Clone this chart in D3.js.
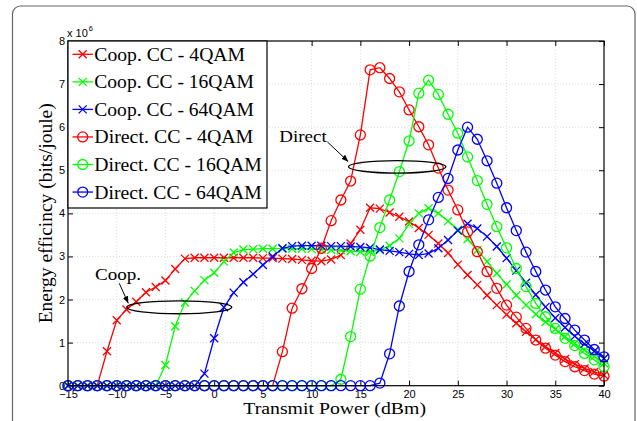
<!DOCTYPE html>
<html><head><meta charset="utf-8">
<script src="https://cdn.jsdelivr.net/npm/d3@7"></script>
<style>
body{margin:0;background:#fff}svg{display:block}
.serif{font-family:"Liberation Serif","DejaVu Serif","Times New Roman",Times,serif;}
.sans{font-family:"Liberation Sans",Arial,Helvetica,sans-serif;}
</style>
</head><body>
<svg id="c" width="637" height="421"></svg>
<script>
// ---- data ----
const power = [-15,-14,-13,-12,-11,-10,-9,-8,-7,-6,-5,-4,-3,-2,-1,0,1,2,3,4,5,6,7,8,9,10,
  11,12,13,14,15,16,17,18,19,20,21,22,23,24,25,26,27,28,29,30,31,32,33,34,35,36,37,38,39,40];

const coop4 = [0,0,0,0,0.8,1.52,1.77,1.95,2.17,2.29,2.44,2.71,2.95,2.97,2.97,2.97,2.97,2.97,2.97,2.97,
  2.96,2.96,2.95,2.94,2.92,2.90,2.89,2.93,3.03,3.30,3.62,4.13,4.11,4.02,3.92,3.81,3.66,3.50,3.30,3.08,
  2.81,2.57,2.34,2.10,1.87,1.65,1.45,1.25,1.07,0.91,0.76,0.62,0.50,0.40,0.32,0.25];

const coop16 = [0,0,0,0,0,0,0,0,0,0,0.48,1.38,1.93,2.20,2.45,2.62,2.88,3.09,3.16,3.17,
  3.18,3.18,3.18,3.18,3.18,3.17,3.16,3.15,3.14,3.12,3.11,3.11,3.15,3.25,3.42,3.75,4.00,4.12,4.00,3.82,
  3.62,3.40,3.15,2.88,2.61,2.35,2.10,1.87,1.66,1.48,1.31,1.14,0.98,0.83,0.68,0.52];

const coop64 = [0,0,0,0,0,0,0,0,0,0,0,0,0,0,0.28,1.10,1.82,2.16,2.40,2.59,
  2.80,3.00,3.19,3.24,3.25,3.25,3.25,3.24,3.24,3.23,3.22,3.20,3.16,3.13,3.10,3.06,3.03,3.07,3.19,3.38,
  3.60,3.76,3.65,3.46,3.23,2.96,2.67,2.39,2.11,1.83,1.57,1.35,1.15,0.97,0.80,0.63];

const direct4 = [0,0,0,0,0,0,0,0,0,0,0,0,0,0,0,0,0,0,0,0,
  0,0,0.79,1.80,2.25,2.72,3.19,3.83,4.31,4.75,5.82,7.33,7.38,7.13,6.82,6.40,6.01,5.59,5.05,4.54,
  4.08,3.57,3.11,2.65,2.26,1.87,1.59,1.33,1.06,0.87,0.71,0.56,0.44,0.35,0.27,0.22];

const direct16 = [0,0,0,0,0,0,0,0,0,0,0,0,0,0,0,0,0,0,0,0,
  0,0,0,0,0,0,0,0,0.15,1.14,2.24,3.01,3.67,4.31,4.97,5.68,6.79,7.09,6.76,6.30,
  5.86,5.31,4.76,4.21,3.69,3.20,2.72,2.30,1.91,1.60,1.33,1.10,0.93,0.75,0.60,0.44];

const direct64 = [0,0,0,0,0,0,0,0,0,0,0,0,0,0,0,0,0,0,0,0,
  0,0,0,0,0,0,0,0,0,0,0,0,0.06,0.74,1.85,2.65,3.27,3.85,4.37,4.81,
  5.47,6.00,5.72,5.22,4.70,4.13,3.60,3.10,2.65,2.22,1.83,1.56,1.29,1.06,0.84,0.67];

const seriesNames = ["Coop. CC - 4QAM","Coop. CC - 16QAM","Coop. CC - 64QAM",
  "Direct. CC - 4QAM","Direct. CC - 16QAM","Direct. CC - 64QAM"];
const seriesValues = [coop4, coop16, coop64, direct4, direct16, direct64];
const seriesColors = ["#ff0000","#00ff00","#0000ff","#ff0000","#00ff00","#0000ff"];
const seriesMarkers = ["x","x","x","o","o","o"];

const xTicks = [-15,-10,-5,0,5,10,15,20,25,30,35,40];
const yTicks = [0,1,2,3,4,5,6,7,8];

// annotations (data units)
const coopLabel = {text:"Coop.", x:-12.23, y:2.45, ax0:-9.74, ay0:2.376, ax1:-8.81, ay1:1.912, ex:-3.59, ey:1.82, erx:5.39, ery:0.15};
const directLabel = {text:"Direct", x:6.68, y:5.66, ax0:11.61, ay0:5.66, ax1:13.76, ay1:5.20, ex:18.78, ey:5.08, erx:5.0, ery:0.145};

// ---- drawing ----
const svg = d3.select("#c");
const L = 68, R = 604, T = 41, B = 385.7;
const x = d3.scaleLinear().domain([-15,40]).range([L,R]);
const y = d3.scaleLinear().domain([0,8]).range([B,T]);

// outer rounded frame
svg.append("rect").attr("x",12.5).attr("y",6).attr("width",622.5).attr("height",440)
  .attr("rx",8).attr("fill","none").attr("stroke","#666").attr("stroke-width",1.2);

// grid
const grid = svg.append("g").attr("stroke","#d4d4d4").attr("stroke-width",0.8).attr("stroke-dasharray","1,2");
grid.selectAll("line.v").data(xTicks.slice(1,-1)).enter().append("line")
  .attr("x1",d=>x(d)).attr("x2",d=>x(d)).attr("y1",T).attr("y2",B);
grid.selectAll("line.h").data(yTicks.slice(1,-1)).enter().append("line")
  .attr("x1",L).attr("x2",R).attr("y1",d=>y(d)).attr("y2",d=>y(d));

// axes
function styleAxis(g){
  g.select(".domain").remove();
  g.attr("font-family",null);
  g.selectAll(".tick line").attr("stroke","#000").attr("stroke-width",1);
  g.selectAll(".tick text").attr("class","sans").attr("font-size",11).attr("fill","#000");
}
svg.append("g").attr("transform",`translate(0,${B})`)
  .call(d3.axisBottom(x).tickValues(xTicks).tickSize(-5).tickPadding(5)).call(styleAxis);
svg.append("g").attr("transform",`translate(0,${T})`)
  .call(d3.axisTop(x).tickValues(xTicks).tickSize(-5).tickFormat("")).call(styleAxis);
svg.append("g").attr("transform",`translate(${L},0)`)
  .call(d3.axisLeft(y).tickValues(yTicks).tickSize(-5).tickPadding(3)).call(styleAxis);
svg.append("g").attr("transform",`translate(${R},0)`)
  .call(d3.axisRight(y).tickValues(yTicks).tickSize(-5).tickFormat("")).call(styleAxis);

// exponent label
const ex = svg.append("text").attr("class","sans").attr("x",L-1).attr("y",T-4.5)
  .attr("font-size",11).attr("fill","#000").text("x 10");
ex.append("tspan").attr("font-size",7.5).attr("dy",-6).attr("dx",1).text("6");

// series
const line = d3.line().x((d,i)=>x(power[i])).y(d=>y(d));
const xPath = "M-4,-4L4,4M-4,4L4,-4";
seriesValues.forEach((vals,k)=>{
  const g = svg.append("g");
  g.append("path").attr("d",line(vals)).attr("fill","none")
    .attr("stroke",seriesColors[k]).attr("stroke-width",1.3);
  const pts = g.selectAll("g.m").data(vals).enter().append("g")
    .attr("transform",(d,i)=>`translate(${x(power[i])},${y(d)})`);
  if(seriesMarkers[k]==="x"){
    pts.append("path").attr("d",xPath).attr("stroke",seriesColors[k]).attr("stroke-width",1.3).attr("fill","none");
  } else {
    pts.append("circle").attr("r",5).attr("stroke",seriesColors[k]).attr("stroke-width",1.3).attr("fill","none");
  }
});

// plot box
svg.append("rect").attr("x",L).attr("y",T).attr("width",R-L).attr("height",B-T)
  .attr("fill","none").attr("stroke","#000").attr("stroke-width",1.2);

// annotations
svg.append("defs").append("marker").attr("id","ah").attr("viewBox","0 0 10 10")
  .attr("refX",10).attr("refY",5).attr("markerWidth",7).attr("markerHeight",7)
  .attr("orient","auto").attr("markerUnits","userSpaceOnUse")
  .append("path").attr("d","M0,1L10,5L0,9Z").attr("fill","#000");
[[coopLabel,46],[directLabel,47.4]].forEach(([a,w])=>{
  svg.append("text").attr("class","serif").attr("x",x(a.x)).attr("y",y(a.y))
    .attr("font-size",16).attr("fill","#000").attr("textLength",w)
    .attr("lengthAdjust","spacingAndGlyphs").text(a.text);
  svg.append("line").attr("x1",x(a.ax0)).attr("y1",y(a.ay0)).attr("x2",x(a.ax1)).attr("y2",y(a.ay1))
    .attr("stroke","#000").attr("stroke-width",1).attr("marker-end","url(#ah)");
  svg.append("ellipse").attr("cx",x(a.ex)).attr("cy",y(a.ey))
    .attr("rx",x(a.ex+a.erx)-x(a.ex)).attr("ry",y(a.ey)-y(a.ey+a.ery))
    .attr("fill","none").attr("stroke","#000").attr("stroke-width",1.3);
});

// legend
const lg = svg.append("g");
lg.append("rect").attr("x",L).attr("y",T).attr("width",199).attr("height",167)
  .attr("fill","#fff").attr("stroke","#000").attr("stroke-width",1.2);
const legendWidths = [150.7,159.7,159.7,159,167.4,167.4];
seriesNames.forEach((name,k)=>{
  const cy = 54.3 + k*27.55;
  lg.append("line").attr("x1",72.5).attr("x2",93).attr("y1",cy).attr("y2",cy)
    .attr("stroke",seriesColors[k]).attr("stroke-width",1.3);
  if(seriesMarkers[k]==="x"){
    lg.append("path").attr("transform",`translate(82.7,${cy})`).attr("d",xPath)
      .attr("stroke",seriesColors[k]).attr("stroke-width",1.3);
  } else {
    lg.append("circle").attr("cx",82.7).attr("cy",cy).attr("r",5)
      .attr("stroke",seriesColors[k]).attr("stroke-width",1.3).attr("fill","none");
  }
  lg.append("text").attr("class","serif").attr("x",94.3).attr("y",cy+6.5).attr("font-size",18)
    .attr("fill","#000").attr("textLength",legendWidths[k]).attr("lengthAdjust","spacingAndGlyphs")
    .text(name);
});

// axis labels
svg.append("text").attr("class","serif").attr("x",243.3).attr("y",414).attr("font-size",17)
  .attr("fill","#000").attr("textLength",182.7).attr("lengthAdjust","spacingAndGlyphs")
  .text("Transmit Power (dBm)");
svg.append("text").attr("class","serif").attr("transform","translate(52.3,323.3) rotate(-90)")
  .attr("font-size",18).attr("fill","#000")
  .attr("textLength",220).attr("lengthAdjust","spacingAndGlyphs")
  .text("Energy efficincy (bits/joule)");
</script>
</body></html>
